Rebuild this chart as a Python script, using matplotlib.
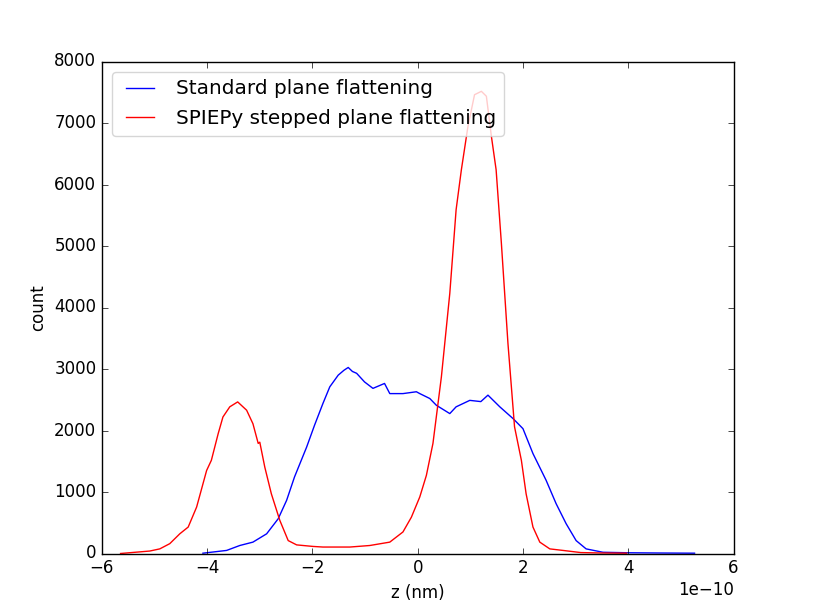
import numpy as np
import matplotlib
matplotlib.use('Agg')
import matplotlib.pyplot as plt

plt.style.use('classic')

# z values in units of 1e-10, counts
z_std = [-4.08, -3.63, -3.38, -3.13, -2.87, -2.65, -2.49, -2.34, -2.11, -1.96,
	-1.80, -1.67, -1.51, -1.40, -1.32, -1.24, -1.16, -1.01, -0.85, -0.63,
	-0.53, -0.34, -0.28, -0.025, 0.04, 0.23, 0.355, 0.61, 0.73, 0.99,
	1.2, 1.335, 1.56, 1.81, 2.0, 2.19, 2.44, 2.63, 2.82, 3.01,
	3.20, 3.52, 4.0, 4.6, 5.26]
count_std = [5, 50, 130, 185, 320, 565, 865, 1245, 1730, 2085,
	2440, 2710, 2900, 2980, 3025, 2960, 2930, 2790, 2685, 2765,
	2600, 2600, 2600, 2630, 2600, 2520, 2410, 2275, 2385, 2490,
	2470, 2575, 2385, 2195, 2030, 1625, 1190, 810, 485, 210,
	75, 20, 12, 8, 5]

z_step = [-5.645, -5.09, -4.90, -4.71, -4.52, -4.36, -4.20, -4.01, -3.92, -3.79,
	-3.70, -3.57, -3.42, -3.25, -3.13, -3.03, -3.0, -2.905, -2.78, -2.62,
	-2.46, -2.30, -1.99, -1.80, -1.29, -0.91, -0.53, -0.28, -0.12, 0.04,
	0.165, 0.29, 0.45, 0.61, 0.73, 0.83, 0.955, 1.08, 1.21, 1.305,
	1.40, 1.49, 1.59, 1.715, 1.84, 1.97, 2.06, 2.19, 2.32, 2.51,
	2.76, 3.1, 3.5, 3.97]
count_step = [0, 40, 75, 160, 320, 430, 755, 1350, 1515, 1950,
	2220, 2385, 2465, 2330, 2110, 1790, 1810, 1405, 970, 540,
	210, 140, 115, 105, 105, 130, 185, 350, 590, 920,
	1270, 1790, 2870, 4230, 5590, 6240, 6945, 7460, 7515, 7435,
	6785, 6240, 5045, 3415, 2060, 1515, 970, 430, 185, 75,
	50, 15, 8, 5]

fig = plt.figure(figsize=(8.15, 6.15), dpi=100)
ax = fig.add_subplot(111)
ax.plot(np.array(z_std) * 1e-10, count_std, 'b-', label='Standard plane flattening')
ax.plot(np.array(z_step) * 1e-10, count_step, 'r-', label='SPIEPy stepped plane flattening')
ax.set_xlim(-6e-10, 6e-10)
ax.set_ylim(0, 8000)
ax.set_xlabel('z (nm)')
ax.set_ylabel('count')
leg = ax.legend(loc='upper left', fancybox=True, framealpha=0.8)
leg.get_frame().set_edgecolor('0.8')
fig.savefig('out.png', dpi=100)
